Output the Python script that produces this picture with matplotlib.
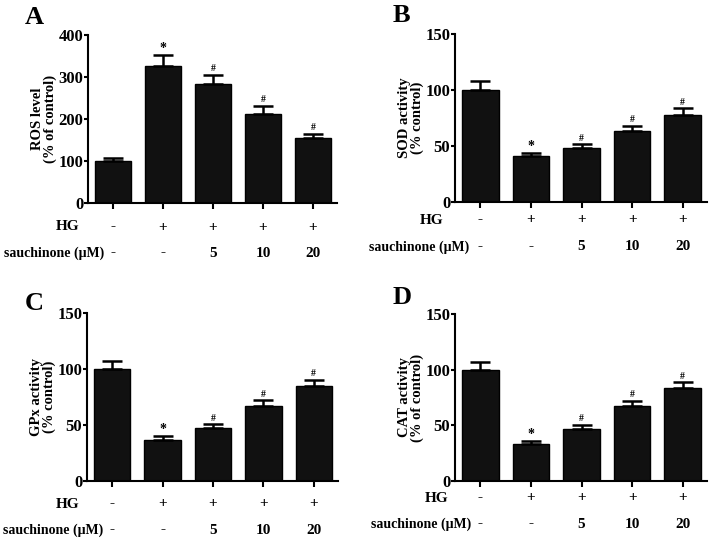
import numpy as np
import matplotlib
matplotlib.use('Agg')
import matplotlib.pyplot as plt
from matplotlib import transforms

plt.rcParams['font.family'] = ['Liberation Serif', 'DejaVu Serif']
plt.rcParams['font.weight'] = 'bold'

# data
hg_row = ['-', '+', '+', '+', '+']
sauch_row = ['-', '-', '5', '10', '20']

ros_mean = [100, 327, 283, 213, 154]
ros_err = [7, 25, 22, 18, 11]
ros_marks = ['', '*', '#', '#', '#']

sod_mean = [100, 41, 48, 63, 78]
sod_err = [8, 3, 3.5, 5, 5.5]
sod_marks = ['', '*', '#', '#', '#']

gpx_mean = [100, 37, 47, 67, 84.5]
gpx_err = [7, 3.5, 3.5, 5, 6]
gpx_marks = ['', '*', '#', '#', '#']

cat_mean = [100, 32.8, 46.4, 67.8, 83.7]
cat_err = [7, 2.7, 3.9, 4.2, 4.8]
cat_marks = ['', '*', '#', '#', '#']

W, H = 709, 539
fig = plt.figure(figsize=(W / 100, H / 100), dpi=100)


def px_axes(left, top, right, bottom):
    return fig.add_axes([left / W, 1 - bottom / H, (right - left) / W, (bottom - top) / H])


def draw_panel(ax, means, errs, marks, ymax, ystep, ylabel, letter, letter_xy,
               hg_dy, sa_dy, hg_right, sa_right):
    x = np.arange(len(means))
    ax.bar(x, means, width=0.72, color='#111111', edgecolor='black', linewidth=1)
    ax.errorbar(x, means, yerr=[np.zeros(len(errs)), errs], fmt='none',
                ecolor='black', elinewidth=1.8, capsize=7, capthick=1.8)
    for xi, m, e, s in zip(x, means, errs, marks):
        if s == '*':
            ax.text(xi, m + e, s, ha='center', va='bottom', fontsize=10)
        elif s:
            ax.text(xi, m + e + ymax * 0.01, s, ha='center', va='bottom', fontsize=7)
    ax.set_xlim(-0.5, 4.48)
    ax.set_ylim(0, ymax)
    ax.set_yticks(np.arange(0, ymax + 1, ystep))
    ax.set_xticks(x)
    ax.set_xticklabels([])
    ax.spines['top'].set_visible(False)
    ax.spines['right'].set_visible(False)
    ax.spines['left'].set_linewidth(1.5)
    ax.spines['bottom'].set_linewidth(1.5)
    ax.tick_params(axis='y', labelsize=12, width=1.5, length=3, pad=0.5)
    ax.tick_params(axis='x', width=1.5, length=4)
    for lab in ax.get_yticklabels():
        lab.set_fontweight('bold')
    ax.set_ylabel(ylabel, fontsize=10.5, fontweight='bold', labelpad=1, linespacing=0.95)

    # condition rows under the axis
    trans = transforms.blended_transform_factory(ax.transData, fig.transFigure)
    bottom_px = (1 - ax.get_position().y0) * H
    y_hg = 1 - (bottom_px + hg_dy) / H
    y_sa = 1 - (bottom_px + sa_dy) / H
    for xi, h, s in zip(x, hg_row, sauch_row):
        ax.text(xi, y_hg, h, transform=trans, ha='center', va='center', fontsize=11)
        ax.text(xi, y_sa, s, transform=trans, ha='center', va='center', fontsize=11)
    fig.text(hg_right / W, y_hg, 'HG', ha='right', va='center', fontsize=11)
    fig.text(sa_right / W, y_sa, 'sauchinone (\u03bcM)', ha='right', va='center', fontsize=10)
    fig.text(letter_xy[0] / W, 1 - letter_xy[1] / H, letter, ha='left', va='center',
             fontsize=19, fontweight='bold')


axA = px_axes(88, 35, 337, 203)
draw_panel(axA, ros_mean, ros_err, ros_marks, 400, 100, 'ROS level\n(% of control)',
           'A', (25, 18), 24, 50, 79, 104)

axB = px_axes(455, 34, 707, 202)
draw_panel(axB, sod_mean, sod_err, sod_marks, 150, 50, 'SOD activity\n(% control)',
           'B', (393, 16), 18, 45, 443, 469)

axC = px_axes(87, 313, 338, 481)
draw_panel(axC, gpx_mean, gpx_err, gpx_marks, 150, 50, 'GPx activity\n(% control)',
           'C', (25, 304), 23, 49, 79, 103)

axD = px_axes(455, 314, 707, 481)
draw_panel(axD, cat_mean, cat_err, cat_marks, 150, 50, 'CAT activity\n(% of control)',
           'D', (393, 298), 17, 43, 448, 471)

fig.savefig('out.png', dpi=100)
